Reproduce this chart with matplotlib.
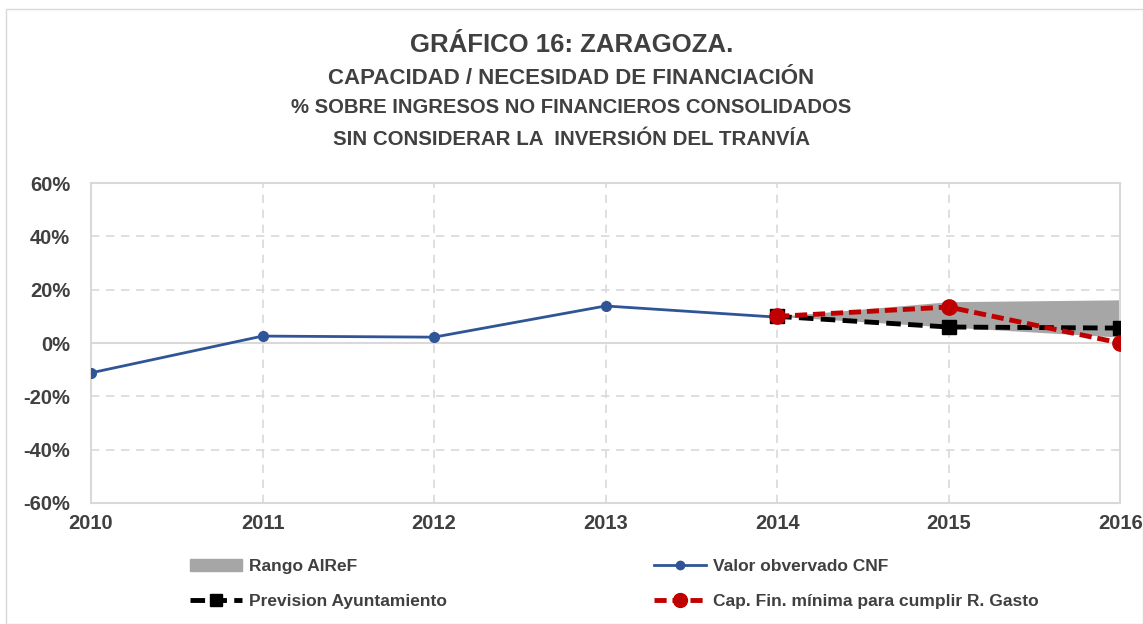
import numpy as np
import matplotlib.pyplot as plt
from matplotlib.patches import Patch
from matplotlib.lines import Line2D
from matplotlib.ticker import FuncFormatter

plt.rcParams['font.family'] = ['Liberation Sans', 'DejaVu Sans']

# datos
years = [2010, 2011, 2012, 2013, 2014, 2015, 2016]
cnf_observado = [-11.2, 2.6, 2.2, 13.9, 9.7]
years_prev = [2014, 2015, 2016]
prevision = [10.0, 6.0, 5.6]
cap_min = [10.0, 13.5, 0.0]
rango_low = [10.0, 6.0, 2.2]
rango_high = [10.0, 15.5, 16.2]

txt = '#404040'
grid_c = '#D9D9D9'

fig = plt.figure(figsize=(11.43, 6.24), dpi=100)
ax = fig.add_axes([0.0796, 0.194, 0.9004, 0.5126])

ax.fill_between(years_prev, rango_low, rango_high, color='#A6A6A6', lw=0, zorder=2)
ax.plot(years[:5], cnf_observado, color='#2F5597', lw=2, marker='o', ms=7, zorder=3)
ax.plot(years_prev, prevision, color='black', lw=3.5, ls=(0, (3, 1.5)), marker='s', ms=10, zorder=4)
ax.plot(years_prev, cap_min, color='#C00000', lw=3.5, ls=(0, (2.5, 1.2)), marker='o', ms=11, zorder=5)

ax.set_xlim(2010, 2016)
ax.set_ylim(-60, 60)
ax.set_xticks(years)
ax.set_yticks(np.arange(-60, 61, 20))
ax.yaxis.set_major_formatter(FuncFormatter(lambda v, p: '{:.0f}%'.format(v)))
ax.grid(True, color=grid_c, ls=(0, (5, 4)), lw=1.2)
ax.axhline(0, color=grid_c, lw=1.5, zorder=1)
for s in ax.spines.values():
    s.set_color(grid_c)
    s.set_linewidth(1.5)
ax.tick_params(length=0, labelsize=14.5, labelcolor=txt)
ax.tick_params(axis='y', pad=15)
ax.tick_params(axis='x', pad=8)
for lab in ax.get_xticklabels() + ax.get_yticklabels():
    lab.set_fontweight('bold')

fig.text(0.5, 0.928, 'GRÁFICO 16: ZARAGOZA.', ha='center', va='center',
         fontsize=18.5, fontweight='bold', color=txt)
fig.text(0.5, 0.875, 'CAPACIDAD / NECESIDAD DE FINANCIACIÓN', ha='center', va='center',
         fontsize=16, fontweight='bold', color=txt)
fig.text(0.5, 0.827, '% SOBRE INGRESOS NO FINANCIEROS CONSOLIDADOS', ha='center', va='center',
         fontsize=14.6, fontweight='bold', color=txt)
fig.text(0.5, 0.776, 'SIN CONSIDERAR LA  INVERSIÓN DEL TRANVÍA', ha='center', va='center',
         fontsize=14.8, fontweight='bold', color=txt)

h_rango = Patch(color='#A6A6A6')
h_prev = Line2D([], [], color='black', lw=3.5, ls=(0, (3, 1.5)), marker='s', ms=9)
h_cnf = Line2D([], [], color='#2F5597', lw=2, marker='o', ms=6)
h_cap = Line2D([], [], color='#C00000', lw=3.5, ls=(0, (2.5, 1.2)), marker='o', ms=10)

leg_kw = dict(frameon=False, handlelength=3.0, handletextpad=0.4, labelspacing=1.1,
              prop={'size': 12.5, 'weight': 'bold'}, labelcolor=txt, borderaxespad=0)
fig.legend([h_rango, h_prev], ['Rango AIReF', 'Prevision Ayuntamiento'],
           loc='upper left', bbox_to_anchor=(0.160, 0.115), **leg_kw)
fig.legend([h_cnf, h_cap], ['Valor obvervado CNF', 'Cap. Fin. mínima para cumplir R. Gasto'],
           loc='upper left', bbox_to_anchor=(0.566, 0.115), **leg_kw)

fig.patches.append(plt.Rectangle((0.005, 0.0), 0.995, 0.985, transform=fig.transFigure,
                                 fill=False, edgecolor='#D9D9D9', lw=1))

fig.savefig('out.png', dpi=100)
